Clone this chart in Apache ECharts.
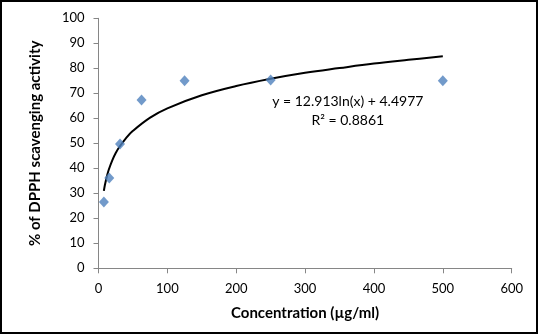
<!DOCTYPE html>
<html>
<head>
<meta charset="utf-8">
<script src="https://cdn.jsdelivr.net/npm/echarts@6/dist/echarts.min.js"></script>
<style>
html,body{margin:0;padding:0;background:#fff;}
#wrap{position:absolute;left:0;top:0;width:534px;height:330px;border:2px solid #000;}
#c{width:534px;height:330px;}
</style>
</head>
<body>
<div id="wrap"><div id="c"></div></div>
<script>
// Observed data
const concentration = [7.8125, 15.625, 31.25, 62.5, 125, 250, 500];
const scavenging = [26.5, 36.1, 49.7, 67.3, 75.0, 75.3, 75.0];
// Trendline values (y = 12.913ln(x) + 4.4977)
const trendX = [7.8, 9, 10, 12, 15, 20, 25, 30, 40, 50, 75, 100, 150, 200, 250, 300, 350, 400, 450, 500];
const trendY = [31.0, 32.9, 34.2, 36.6, 39.5, 43.2, 46.1, 48.4, 52.1, 55.0, 60.3, 64.0, 69.2, 72.9, 75.8, 78.2, 80.1, 81.9, 83.4, 84.8];
const xTicks = [0, 100, 200, 300, 400, 500, 600];
const yTicks = [0, 10, 20, 30, 40, 50, 60, 70, 80, 90, 100];
const equationText = 'y = 12.913ln(x) + 4.4977';
const r2Text = 'R² = 0.8861';

const font = 'Lato, "Open Sans", sans-serif';
const chart = echarts.init(document.getElementById('c'));
const axisLine = {show: true, lineStyle: {color: '#868686', width: 1}};
chart.setOption({
  animation: false,
  grid: {left: 96.5, right: 24.3, top: 16.3, bottom: 63.7},
  xAxis: {
    type: 'value', min: xTicks[0], max: xTicks[xTicks.length - 1], interval: 100,
    axisLine: axisLine,
    axisTick: {show: true, length: 5, lineStyle: {color: '#868686'}},
    splitLine: {show: false},
    axisLabel: {color: '#000', fontSize: 13, fontFamily: font, margin: 14},
    name: 'Concentration (µg/ml)', nameLocation: 'middle', nameGap: 37,
    nameTextStyle: {color: '#000', fontSize: 15, fontWeight: 'bold', fontFamily: font}
  },
  yAxis: {
    type: 'value', min: yTicks[0], max: yTicks[yTicks.length - 1], interval: 10,
    axisLine: axisLine,
    axisTick: {show: true, length: 5, lineStyle: {color: '#868686'}},
    splitLine: {show: false},
    axisLabel: {color: '#000', fontSize: 13, fontFamily: font, margin: 14},
    name: '% of DPPH scavenging activity', nameLocation: 'middle', nameGap: 56,
    nameTextStyle: {color: '#000', fontSize: 15, fontWeight: 'bold', fontFamily: font}
  },
  series: [
    {
      type: 'line', data: trendX.map((x, i) => [x, trendY[i]]),
      smooth: 0.4, symbol: 'none', lineStyle: {color: '#000', width: 2}, z: 2
    },
    {
      type: 'scatter', data: concentration.map((x, i) => [x, scavenging[i]]),
      symbol: 'diamond', symbolSize: [10, 11], itemStyle: {color: '#4F81BD'}, z: 3
    }
  ]
});
const p1 = chart.convertToPixel({gridIndex: 0}, [362, 66.6]);
const p2 = chart.convertToPixel({gridIndex: 0}, [362, 59.0]);
chart.setOption({
  graphic: [
    {type: 'text', x: p1[0], y: p1[1], style: {text: equationText, fontSize: 14, fontFamily: font, fill: '#000', align: 'center', verticalAlign: 'middle'}},
    {type: 'text', x: p2[0], y: p2[1], style: {text: r2Text, fontSize: 14, fontFamily: font, fill: '#000', align: 'center', verticalAlign: 'middle'}}
  ]
});
</script>
</body>
</html>
